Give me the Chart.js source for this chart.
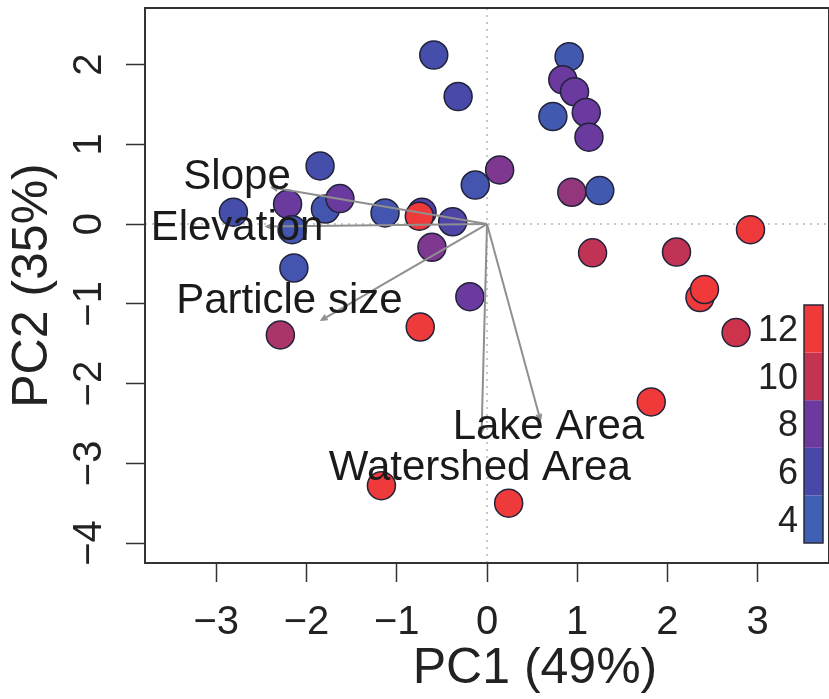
<!DOCTYPE html>
<html>
<head>
<meta charset="utf-8">
<script src="https://cdn.jsdelivr.net/npm/chart.js@4/dist/chart.umd.min.js"></script>
<style>
  html, body { margin: 0; padding: 0; background: #fff; }
  #wrap { width: 829px; height: 699px; }
</style>
</head>
<body>
<div id="wrap"><canvas id="pca"></canvas></div>
<script>
// PCA site scores and the value each site is coloured by
const pc1 = [-0.59, -0.32, -1.85, -2.81, -2.21, -1.79, -1.63, -1.13, -0.72, -0.75, -0.38, -0.13,
             -2.16, -0.61, 0.14, 0.91, 0.84, 0.97, 0.73, 1.10, 1.13, 0.94, 1.25, 2.92,
             1.17, 2.10, 2.36, 2.41, 2.76, 1.82, 0.24, -2.14, -0.19, -0.74, -2.29, -1.17];
const pc2 = [2.12, 1.60, 0.73, 0.15, 0.25, 0.19, 0.32, 0.14, 0.15, 0.10, 0.03, 0.49,
             -0.07, -0.29, 0.68, 2.10, 1.81, 1.66, 1.35, 1.40, 1.09, 0.40, 0.42, -0.07,
             -0.36, -0.35, -0.92, -0.82, -1.36, -2.23, -3.50, -0.55, -0.91, -1.29, -1.39, -3.28];
const colourValue = [5.5, 6, 5.5, 5.5, 8, 5, 8, 5, 6.5, 12, 6.5, 5,
                     5, 8.5, 8.5, 4.5, 8, 8, 4.5, 8, 8, 9, 4.5, 12,
                     10, 10, 12, 12.5, 10.5, 12.5, 12, 5, 8, 12, 9.5, 12];

// variable loadings (arrow tips) and where their names sit
const varNames = ['Slope', 'Elevation', 'Particle size', 'Lake Area', 'Watershed Area'];
const loadPC1 = [-2.38, -2.44, -1.83, 0.59, -0.06];
const loadPC2 = [0.46, -0.03, -1.20, -2.45, -2.61];
const labelPC1 = [-2.77, -2.77, -2.19, 0.68, -0.08];
const labelPC2 = [0.58, -0.05, -0.97, -2.55, -3.06];

const xTitle = 'PC1 (49%)';
const yTicks = [-4, -3, -2, -1, 0, 1, 2];
const colourTicks = [4, 6, 8, 10, 12];
const colourRange = [3.1, 13.1];
const colourStops = [4.1, 6.1, 8.1, 10.1, 12.1];
const palette = ['#3f5fb2', '#4848a8', '#6c399f', '#c43350', '#f03a3a'];

const FONT = '"Liberation Sans", Arial, sans-serif';
const INK = '#222';

function hexToRgb(h) {
    return [1, 3, 5].map(i => parseInt(h.substr(i, 2), 16));
}

function colourFor(v) {
    if (v <= colourStops[0]) return palette[0];
    if (v >= colourStops[colourStops.length - 1]) return palette[palette.length - 1];
    let i = 0;
    while (v > colourStops[i + 1]) i++;
    const t = (v - colourStops[i]) / (colourStops[i + 1] - colourStops[i]);
    const a = hexToRgb(palette[i]), b = hexToRgb(palette[i + 1]);
    const c = a.map((ch, k) => Math.round(ch + (b[k] - ch) * t));
    return `rgb(${c[0]}, ${c[1]}, ${c[2]})`;
}

const minus = v => (v < 0 ? '\u2212' + Math.abs(v) : String(v));

// everything R draws that chart.js doesn't: zero lines, box, arrowheads, labels, colour bar
const biplotExtras = {
    id: 'biplotExtras',
    beforeDatasetsDraw(chart) {
        const { ctx, chartArea: a, scales: { x, y } } = chart;
        ctx.save();
        ctx.strokeStyle = '#b4b4b4';
        ctx.lineWidth = 1.5;
        ctx.setLineDash([2, 5]);
        const x0 = x.getPixelForValue(0), y0 = y.getPixelForValue(0);
        ctx.beginPath();
        ctx.moveTo(x0, a.top); ctx.lineTo(x0, a.bottom);
        ctx.moveTo(a.left, y0); ctx.lineTo(a.right, y0);
        ctx.stroke();
        ctx.restore();
    },
    afterDatasetsDraw(chart) {
        const { ctx, chartArea: a, scales: { x, y } } = chart;
        ctx.save();

        // small arrowheads
        ctx.strokeStyle = '#8f8f8f';
        ctx.lineWidth = 2;
        const ox = x.getPixelForValue(0), oy = y.getPixelForValue(0);
        loadPC1.forEach((lx, i) => {
            const tx = x.getPixelForValue(lx), ty = y.getPixelForValue(loadPC2[i]);
            const ang = Math.atan2(ty - oy, tx - ox);
            ctx.beginPath();
            ctx.moveTo(tx - 6 * Math.cos(ang - 0.45), ty - 6 * Math.sin(ang - 0.45));
            ctx.lineTo(tx, ty);
            ctx.lineTo(tx - 6 * Math.cos(ang + 0.45), ty - 6 * Math.sin(ang + 0.45));
            ctx.stroke();
        });

        // variable names
        ctx.fillStyle = '#1a1a1a';
        ctx.font = `42px ${FONT}`;
        ctx.textAlign = 'center';
        ctx.textBaseline = 'middle';
        varNames.forEach((name, i) => {
            ctx.fillText(name, x.getPixelForValue(labelPC1[i]), y.getPixelForValue(labelPC2[i]));
        });

        // plot box
        ctx.strokeStyle = '#333';
        ctx.lineWidth = 2;
        ctx.strokeRect(a.left, a.top, a.right - a.left, a.bottom - a.top);

        // y tick labels, rotated like R's las = 0
        ctx.fillStyle = INK;
        ctx.font = `40px ${FONT}`;
        yTicks.forEach(v => {
            ctx.save();
            ctx.translate(90, y.getPixelForValue(v));
            ctx.rotate(-Math.PI / 2);
            ctx.fillText(minus(v), 0, 0);
            ctx.restore();
        });

        // x title: the original plot region runs past the crop, so it sits right of centre
        ctx.font = `50px ${FONT}`;
        ctx.fillText(xTitle, (a.left + a.right) / 2 + 48, 669);

        // colour bar legend
        const barL = a.right - 25, barW = 19, barTop = a.top + 297, barBot = a.top + 535;
        const span = colourRange[1] - colourRange[0];
        const toPx = v => barBot - (v - colourRange[0]) / span * (barBot - barTop);
        colourStops.forEach((c, i) => {
            ctx.fillStyle = palette[i];
            const y1 = toPx(c - 1), y2 = toPx(c + 1);
            ctx.fillRect(barL, y2, barW, y1 - y2);
        });
        ctx.strokeStyle = '#2a2a3a';
        ctx.lineWidth = 1.5;
        ctx.strokeRect(barL, barTop, barW, barBot - barTop);
        ctx.fillStyle = INK;
        ctx.font = `36px ${FONT}`;
        ctx.textAlign = 'right';
        colourTicks.forEach(v => ctx.fillText(String(v), barL - 6, toPx(v)));

        ctx.restore();
    }
};

const arrowSets = varNames.map((name, i) => ({
    label: name,
    data: [{ x: 0, y: 0 }, { x: loadPC1[i], y: loadPC2[i] }],
    showLine: true,
    borderColor: '#8f8f8f',
    borderWidth: 2,
    pointRadius: 0,
    order: 0
}));

const noPad = s => { s.paddingLeft = 0; s.paddingRight = 0; s.paddingTop = 0; s.paddingBottom = 0; };

new Chart(document.getElementById('pca'), {
    type: 'scatter',
    data: {
        datasets: [{
            label: 'sites',
            data: pc1.map((v, i) => ({ x: v, y: pc2[i] })),
            backgroundColor: colourValue.map(colourFor),
            borderColor: '#22223a',
            borderWidth: 1.5,
            pointRadius: 14,
            order: 1
        }, ...arrowSets]
    },
    options: {
        responsive: true,
        maintainAspectRatio: false,
        animation: false,
        events: [],
        layout: { autoPadding: false, padding: { top: 8, right: 0, left: 0, bottom: 0 } },
        plugins: {
            legend: { display: false },
            tooltip: { enabled: false }
        },
        scales: {
            x: {
                type: 'linear',
                min: -3.79,
                max: 3.79,
                border: { display: false },
                grid: { drawOnChartArea: false, drawTicks: true, tickLength: 19, tickColor: '#333', tickWidth: 1.5 },
                ticks: {
                    stepSize: 1,
                    includeBounds: false,
                    color: INK,
                    padding: 17,
                    font: { size: 40, family: FONT },
                    callback: v => minus(v)
                },
                afterFit: s => { s.height = 136; noPad(s); }
            },
            y: {
                type: 'linear',
                min: -4.25,
                max: 2.71,
                border: { display: false },
                grid: { drawOnChartArea: false, drawTicks: true, tickLength: 19, tickColor: '#333', tickWidth: 1.5 },
                ticks: { stepSize: 1, includeBounds: false, display: false },
                title: {
                    display: true,
                    text: 'PC2 (35%)',
                    color: INK,
                    font: { size: 50, family: FONT },
                    padding: { top: 3, bottom: 0 }
                },
                afterFit: s => { s.width = 145; noPad(s); }
            }
        }
    },
    plugins: [biplotExtras]
});
</script>
</body>
</html>
